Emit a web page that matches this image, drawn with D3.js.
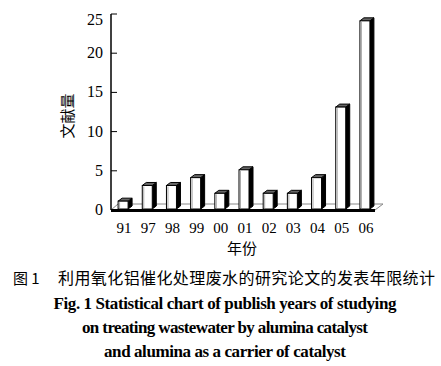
<!DOCTYPE html>
<html>
<head>
<meta charset="utf-8">
<script src="https://cdn.jsdelivr.net/npm/d3@7"></script>
<style>
  body { margin: 0; background: #fff; }
  svg { display: block; }
</style>
</head>
<body>
<div id="chart"></div>
<script>
var years = ['91', '97', '98', '99', '00', '01', '02', '03', '04', '05', '06'];
var counts = [1, 3, 3, 4, 2, 5, 2, 2, 4, 13, 24];
var yTicks = [0, 5, 10, 15, 20, 25];

var width = 441, height = 366;
var svg = d3.select('#chart').append('svg')
    .attr('width', width)
    .attr('height', height);

var serif = '"Liberation Serif", "DejaVu Serif", serif';
var cjk = '"Noto Sans CJK SC", sans-serif';

var x = d3.scaleBand().domain(years).range([112, 378]);
var y = d3.scaleLinear().domain([0, 25]).range([210, 14]);

var dx = 4, dy = 3, barW = 10, depth = 6;

// floor
var x0 = 111, x1 = 375, yb = y(0);
svg.append('path')
    .attr('d', 'M' + x0 + ',' + yb + 'L' + (x0 + 7) + ',' + (yb - depth) +
        'L' + (x1 + 8) + ',' + (yb - depth) + 'L' + x1 + ',' + yb + 'Z')
    .attr('fill', '#fff')
    .attr('stroke', '#888')
    .attr('stroke-width', 1);
svg.append('line')
    .attr('x1', x0).attr('x2', x1)
    .attr('y1', yb + 0.5).attr('y2', yb + 0.5)
    .attr('stroke', '#000').attr('stroke-width', 3);

// bars
var bar = svg.selectAll('.bar')
    .data(years.map(function(d, i) { return {year: d, v: counts[i]}; }))
    .enter().append('g')
    .attr('class', 'bar');

function bx(d) { return x(d.year) + x.bandwidth() / 2 - barW / 2 - 1; }
function by(d) { return y(d.v) - 1; }
var bBase = yb - 1;

bar.append('path')   // side face
    .attr('d', function(d) {
        var l = bx(d) + barW, t = by(d);
        return 'M' + l + ',' + t + 'L' + (l + dx) + ',' + (t - dy) +
            'L' + (l + dx) + ',' + (bBase - dy) + 'L' + l + ',' + bBase + 'Z';
    })
    .attr('fill', '#000').attr('stroke', '#000').attr('stroke-width', 1);

bar.append('path')   // top face
    .attr('d', function(d) {
        var l = bx(d), t = by(d);
        return 'M' + l + ',' + t + 'L' + (l + dx) + ',' + (t - dy) +
            'L' + (l + barW + dx) + ',' + (t - dy) + 'L' + (l + barW) + ',' + t + 'Z';
    })
    .attr('fill', '#666').attr('stroke', '#000').attr('stroke-width', 1);

bar.append('rect')   // front face
    .attr('x', bx)
    .attr('y', by)
    .attr('width', barW)
    .attr('height', function(d) { return bBase - by(d); })
    .attr('fill', '#fff')
    .attr('stroke', '#000')
    .attr('stroke-width', 1);

bar.append('line')   // shaded left edge
    .attr('x1', function(d) { return bx(d) + 1.5; })
    .attr('x2', function(d) { return bx(d) + 1.5; })
    .attr('y1', function(d) { return by(d) + 1; })
    .attr('y2', bBase - 1)
    .attr('stroke', '#aaa').attr('stroke-width', 1);

// y axis
svg.append('line')
    .attr('x1', 111).attr('x2', 111)
    .attr('y1', y(25)).attr('y2', yb)
    .attr('stroke', '#000').attr('stroke-width', 1.5);

svg.selectAll('.ytick')
    .data(yTicks).enter().append('line')
    .attr('x1', 111).attr('x2', 117)
    .attr('y1', function(d) { return y(d); })
    .attr('y2', function(d) { return y(d); })
    .attr('stroke', '#000').attr('stroke-width', 1);

svg.selectAll('.ylab')
    .data(yTicks).enter().append('text')
    .attr('x', 103)
    .attr('y', function(d) { return Math.max(y(d), 20) + 5; })
    .attr('text-anchor', 'end')
    .attr('font-family', serif)
    .attr('font-size', 16)
    .text(function(d) { return d; });

// x labels
svg.selectAll('.xlab')
    .data(years).enter().append('text')
    .attr('x', function(d) { return x(d) + x.bandwidth() / 2; })
    .attr('y', 233)
    .attr('text-anchor', 'middle')
    .attr('font-family', serif)
    .attr('font-size', 15)
    .text(function(d) { return d; });

// axis titles
svg.append('text')
    .attr('transform', 'translate(73,116) rotate(-90)')
    .attr('text-anchor', 'middle')
    .attr('font-family', cjk)
    .attr('font-size', 15)
    .text('文献量');

svg.append('text')
    .attr('x', 242).attr('y', 254)
    .attr('text-anchor', 'middle')
    .attr('font-family', cjk)
    .attr('font-size', 15)
    .text('年份');

// caption
svg.append('text')
    .attr('x', 13).attr('y', 284)
    .attr('font-family', cjk)
    .attr('font-size', 15)
    .text('图 1');
svg.append('text')
    .attr('x', 58).attr('y', 284)
    .attr('font-family', cjk)
    .attr('font-size', 16)
    .attr('textLength', 377)
    .text('利用氧化铝催化处理废水的研究论文的发表年限统计');

var capLines = [
    'Fig. 1 Statistical chart of publish years of studying',
    'on treating wastewater by alumina catalyst',
    'and alumina as a carrier of catalyst'
];
var capWidths = [343, 286, 242];
svg.selectAll('.cap')
    .data(capLines).enter().append('text')
    .attr('x', 225)
    .attr('y', function(d, i) { return 309 + i * 24; })
    .attr('text-anchor', 'middle')
    .attr('font-family', serif)
    .attr('font-weight', 'bold')
    .attr('font-size', 17)
    .attr('textLength', function(d, i) { return capWidths[i]; })
    .attr('lengthAdjust', 'spacing')
    .text(function(d) { return d; });
</script>
</body>
</html>
